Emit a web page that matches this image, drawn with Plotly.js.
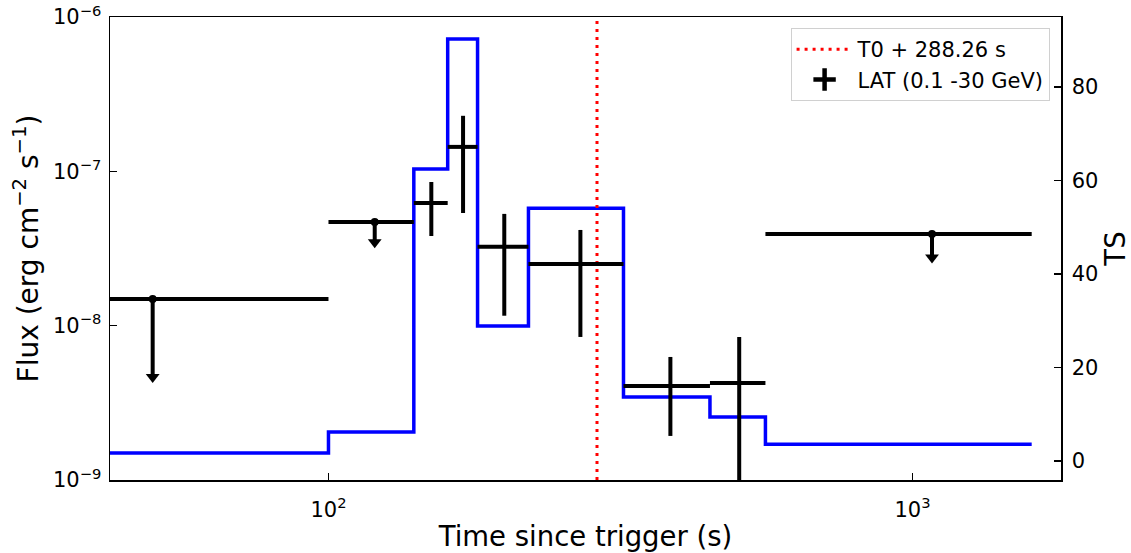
<!DOCTYPE html>
<html><head><meta charset="utf-8">
<script src="https://cdn.plot.ly/plotly-3.0.1.min.js"></script>
<style>html,body{margin:0;padding:0;background:#fff}</style>
</head><body><div id="chart" style="width:1131px;height:553px"></div>
<script>
// Time bins (s)
const binStart = [0, 100, 140, 160, 180, 220, 320, 450, 560];
const binStop  = [100, 140, 160, 180, 220, 320, 450, 560, 1600];
// Test statistic per bin (right axis)
const tsValues = [1.7, 6.2, 62.5, 90.3, 28.9, 54.1, 13.7, 9.4, 3.6];
// LAT flux points
const latTime     = [50, 120, 150, 170, 200, 270, 385, 505, 1080];
const latFlux     = [1.49e-8, 4.7e-8, 6.23e-8, 1.44e-7, 3.24e-8, 2.51e-8, 4.07e-9, 4.25e-9, 3.93e-8];
const latFluxLow  = [null, null, 3.81e-8, 5.37e-8, 1.16e-8, 8.45e-9, 1.93e-9, 0, null];
const latFluxHigh = [null, null, 8.53e-8, 2.29e-7, 5.3e-8, 4.17e-8, 6.27e-9, 8.45e-9, null];
const isUpperLimit = [true, true, false, false, false, false, false, false, true];
const ulArrowHead  = [4.65e-9, 3.47e-8, null, null, null, null, null, null, 2.77e-8];
// Reference time
const t0Offset = 288.26;
const t0Label = 'T0 + 288.26 s';
const latLabel = 'LAT (0.1 -30 GeV)';
// Tick values and labels
const xTickVals = [100, 1000];
const xTickText = ['10<sup>2</sup>', '10<sup>3</sup>'];
const fluxTickVals = [1e-9, 1e-8, 1e-7, 1e-6];
const fluxTickText = ['10<sup>−9</sup>', '10<sup>−8</sup>', '10<sup>−7</sup>', '10<sup>−6</sup>'];
const tsTicks = [0, 20, 40, 60, 80];
const minorDigits = [2, 3, 4, 5, 6, 7, 8, 9];

const X_RANGE = [1.6259, 3.2543];
const Y_RANGE = [-9, -6];

const posX = v => Math.max(v, 1);      // keep log axis happy (clipped off-screen)
const posY = v => Math.max(v, 1e-12);
const minorTicks = (lo, hi) => {
  const out = [];
  for (let e = lo; e <= hi; e++) minorDigits.forEach(d => out.push(d * Math.pow(10, e)));
  return out;
};

// TS step line
const tsX = binStart.map(posX).concat([binStop[binStop.length - 1]]);
const tsY = tsValues.concat([tsValues[tsValues.length - 1]]);

// horizontal bin bars
const hx = [], hy = [];
for (let i = 0; i < latTime.length; i++) {
  hx.push(posX(binStart[i]), binStop[i], null);
  hy.push(latFlux[i], latFlux[i], null);
}
// vertical error bars / UL shafts
const vx = [], vy = [];
const ulX = [], ulY = [], headX = [], headY = [];
for (let i = 0; i < latTime.length; i++) {
  if (isUpperLimit[i]) {
    vx.push(latTime[i], latTime[i], null);
    vy.push(latFlux[i], ulArrowHead[i], null);
    ulX.push(latTime[i]); ulY.push(latFlux[i]);
    headX.push(latTime[i]); headY.push(ulArrowHead[i]);
  } else {
    vx.push(latTime[i], latTime[i], null);
    vy.push(posY(latFluxLow[i]), latFluxHigh[i], null);
  }
}

// minor tick marks (inside) as pixel-sized shapes anchored on the axes
const shapes = [];
minorTicks(1, 3).forEach(v => {
  const lv = Math.log10(v);
  if (lv <= X_RANGE[0] || lv >= X_RANGE[1]) return;
  shapes.push({type: 'line', xref: 'x', x0: lv, x1: lv, yref: 'paper', ysizemode: 'pixel', yanchor: 0,
               y0: 0, y1: 4, line: {color: 'black', width: 1}});
});
minorTicks(-10, -7).forEach(v => {
  const lv = Math.log10(v);
  if (lv <= Y_RANGE[0] || lv >= Y_RANGE[1]) return;
  shapes.push({type: 'line', yref: 'y2', y0: lv, y1: lv, xref: 'paper', xsizemode: 'pixel', xanchor: 0,
               x0: 0, x1: 4, line: {color: 'black', width: 1}});
});

const FONT = 'DejaVu Sans, sans-serif';
const traces = [
  {x: tsX, y: tsY, type: 'scatter', mode: 'lines', line: {shape: 'hv', color: '#0000ff', width: 3.5},
   yaxis: 'y', xaxis: 'x', showlegend: false, hoverinfo: 'skip'},
  {x: [t0Offset, t0Offset], y: [1e-9, 1e-6], type: 'scatter', mode: 'lines', name: t0Label,
   line: {color: '#ff0000', width: 3, dash: '3px,5px'}, yaxis: 'y2'},
  {x: hx, y: hy, type: 'scatter', mode: 'lines', line: {color: 'black', width: 4},
   yaxis: 'y2', showlegend: false, connectgaps: false},
  {x: vx, y: vy, type: 'scatter', mode: 'lines', line: {color: 'black', width: 4},
   yaxis: 'y2', showlegend: false, connectgaps: false},
  {x: ulX, y: ulY, type: 'scatter', mode: 'markers', marker: {color: 'black', size: 8, symbol: 'circle'},
   yaxis: 'y2', showlegend: false},
  {x: headX, y: headY, type: 'scatter', mode: 'markers', marker: {color: 'black', size: 12, symbol: 'triangle-down'},
   yaxis: 'y2', showlegend: false},
  {x: [null], y: [null], type: 'scatter', mode: 'markers', name: latLabel, yaxis: 'y2',
   marker: {color: 'black', size: 20, symbol: 'cross-thin-open', line: {color: 'black', width: 4.5}}}
];

const layout = {
  width: 1131, height: 553,
  margin: {l: 110, r: 70, t: 17, b: 73},
  paper_bgcolor: 'white', plot_bgcolor: 'white',
  font: {family: FONT, color: 'black', size: 19},
  showlegend: true,
  shapes: shapes,
  legend: {x: 0.988, y: 0.976, xanchor: 'right', yanchor: 'top', bgcolor: 'rgba(255,255,255,0.8)',
           bordercolor: '#d0d0d0', borderwidth: 1, font: {size: 21, family: FONT}, traceorder: 'normal',
           tracegroupgap: 0, itemwidth: 56},
  xaxis: {type: 'log', range: X_RANGE, showline: true, linecolor: 'black', linewidth: 1.5, mirror: true,
          ticks: 'inside', ticklen: 7, tickwidth: 1.3, tickcolor: 'black',
          tickmode: 'array', tickvals: xTickVals, ticktext: xTickText, ticklabelstandoff: 10,
          tickfont: {size: 21}, showgrid: false, zeroline: false, anchor: 'y',
          title: {text: 'Time since trigger (s)', font: {size: 27.5}, standoff: 6}},
  yaxis: {range: [-4.06, 95], side: 'right', showline: true, linecolor: 'black', linewidth: 1.5,
          ticks: 'inside', ticklen: 7, tickwidth: 1.3, tickcolor: 'black', tickmode: 'array', tickvals: tsTicks,
          ticklabelstandoff: 5,
          tickfont: {size: 21}, showgrid: false, zeroline: false,
          title: {text: 'TS', font: {size: 27.5}, standoff: 24}},
  yaxis2: {type: 'log', range: Y_RANGE, overlaying: 'y', side: 'left', showline: true, linecolor: 'black', linewidth: 1.5,
           ticks: 'inside', ticklen: 7, tickwidth: 1.3, tickcolor: 'black',
           tickmode: 'array', tickvals: fluxTickVals, ticktext: fluxTickText, ticklabelstandoff: 3,
           tickfont: {size: 21}, showgrid: false, zeroline: false,
           title: {text: 'Flux (erg cm<sup>−2</sup> s<sup>−1</sup>)', font: {size: 28}, standoff: 6}}
};

Plotly.newPlot('chart', traces, layout, {displayModeBar: false, staticPlot: true});
</script>
</body></html>
